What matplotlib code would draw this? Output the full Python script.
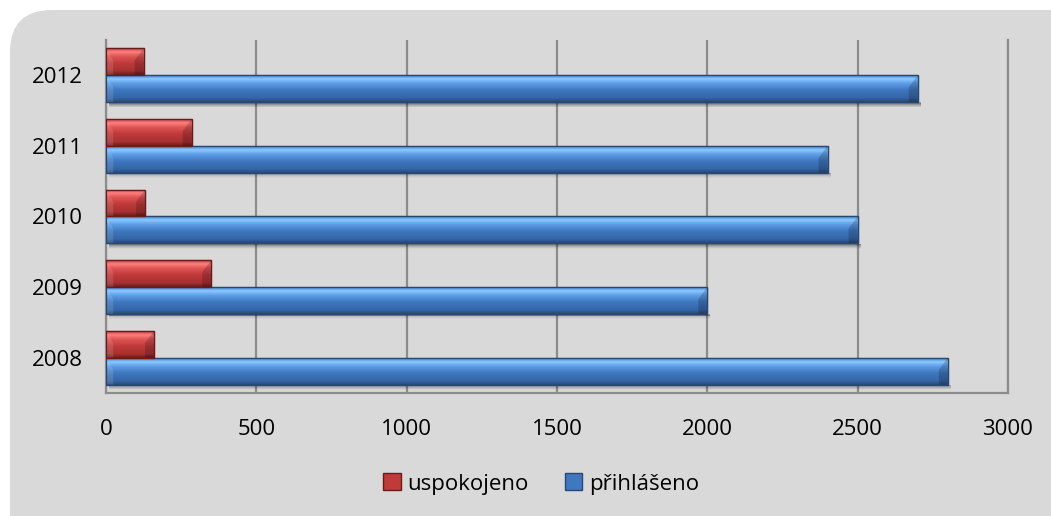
import numpy as np
import matplotlib
matplotlib.use('Agg')
import matplotlib.pyplot as plt
from matplotlib.colors import LinearSegmentedColormap
from matplotlib.patches import FancyBboxPatch, Patch, Polygon

roky = ['2008', '2009', '2010', '2011', '2012']
prihlaseno = [2800, 2000, 2500, 2400, 2700]
uspokojeno = [160, 350, 130, 285, 125]
xticks = [0, 500, 1000, 1500, 2000, 2500, 3000]

plt.rcParams['font.family'] = ['Open Sans', 'DejaVu Sans']

# barevne prechody shora dolu
modra = ['#3a78c8', '#8ccaff', '#5f9fe8', '#3f78c0', '#3566a6', '#284873']
cervena = ['#b83a3a', '#ff8080', '#e05555', '#c03a3a', '#a63131', '#6a1a1a']
zastavky = [0, 0.14, 0.3, 0.55, 0.85, 1.0]

fig = plt.figure(figsize=(10.51, 5.16), dpi=100)
fig.patch.set_facecolor('white')
# sede pozadi se zaoblenymi rohy
bg = FancyBboxPatch((10 / 1051, -0.2), 1.2, (516 - 10) / 516 + 0.2, transform=fig.transFigure,
                    boxstyle='round,pad=0,rounding_size=0.04', mutation_aspect=1051 / 516,
                    facecolor='#d9d9d9', edgecolor='none', zorder=-5)
fig.patches.append(bg)

ax = fig.add_axes([106 / 1051, 123 / 516, 902 / 1051, 353 / 516])
ax.set_facecolor('none')
ax.set_zorder(2)

y = np.arange(len(roky))
h = 0.38


def stin(hodnoty, pozice):
    # mekky stin pod sloupcem
    for i, a in enumerate([0.28, 0.2, 0.13, 0.07, 0.03]):
        ax.barh(pozice - h / 2 - 0.013 * (i + 1), hodnoty, height=0.02, left=10,
                color='black', alpha=a, linewidth=0, zorder=2)


def sloupce(hodnoty, pozice, barvy):
    bars = ax.barh(pozice, hodnoty, height=h, color=barvy[3], edgecolor=barvy[-1],
                   linewidth=0.9, zorder=3)
    cmap = LinearSegmentedColormap.from_list('g', list(zip(zastavky, barvy)))
    grad = np.linspace(0, 1, 256).reshape(-1, 1)
    d = 30  # sirka zkoseni na koncich
    for b in bars:
        x0, y0, w, hh = b.get_x(), b.get_y(), b.get_width(), b.get_height()
        im = ax.imshow(grad, cmap=cmap, aspect='auto', extent=(x0, x0 + w, y0, y0 + hh),
                       zorder=3.5, interpolation='bilinear')
        im.set_clip_path(b)
        x1, top = x0 + w, y0 + hh
        ax.add_patch(Polygon([(x1, top), (x1 - d, top - 0.45 * hh), (x1 - d, y0), (x1, y0)],
                             closed=True, facecolor='black', alpha=0.18, linewidth=0, zorder=3.6))
        ax.add_patch(Polygon([(x0, top), (x0 + d * 0.8, y0 + 0.55 * hh), (x0 + d * 0.8, y0), (x0, y0)],
                             closed=True, facecolor='white', alpha=0.12, linewidth=0, zorder=3.6))
        ax.add_patch(Polygon([(x0, y0), (x1, y0), (x1, top), (x0, top)], closed=True,
                             facecolor='none', edgecolor=barvy[-1], linewidth=0.9, zorder=3.7))
    return bars


stin(prihlaseno, y - h / 2)
stin(uspokojeno, y + h / 2)
sloupce(prihlaseno, y - h / 2, modra)
sloupce(uspokojeno, y + h / 2, cervena)

ax.set_xlim(0, 3000)
ax.set_ylim(-0.5, 4.5)
ax.set_xticks(xticks)
ax.set_xticklabels([str(t) for t in xticks])
ax.set_yticks(y)
ax.set_yticklabels(roky)
ax.tick_params(axis='both', length=0, labelsize=16, colors='black')
ax.tick_params(axis='x', pad=19)
ax.tick_params(axis='y', pad=17)
ax.grid(axis='x', color='#8c8c8c', linewidth=1.6, zorder=1)
ax.set_axisbelow(True)
ax.spines['top'].set_visible(False)
for s in ['left', 'bottom', 'right']:
    ax.spines[s].set_color('#8c8c8c')
    ax.spines[s].set_linewidth(1.6)

handles = [Patch(facecolor='#c03a3a', edgecolor='#6a1a1a', label='uspokojeno'),
           Patch(facecolor='#3f78c0', edgecolor='#284873', label='přihlášeno')]
fig.legend(handles=handles, loc='center', bbox_to_anchor=(0.515, 1 - 484 / 516), ncol=2,
           frameon=False, fontsize=16, handlelength=0.8, handleheight=0.8,
           handletextpad=0.3, columnspacing=1.6)

fig.savefig('out.png', dpi=100, facecolor=fig.get_facecolor())
